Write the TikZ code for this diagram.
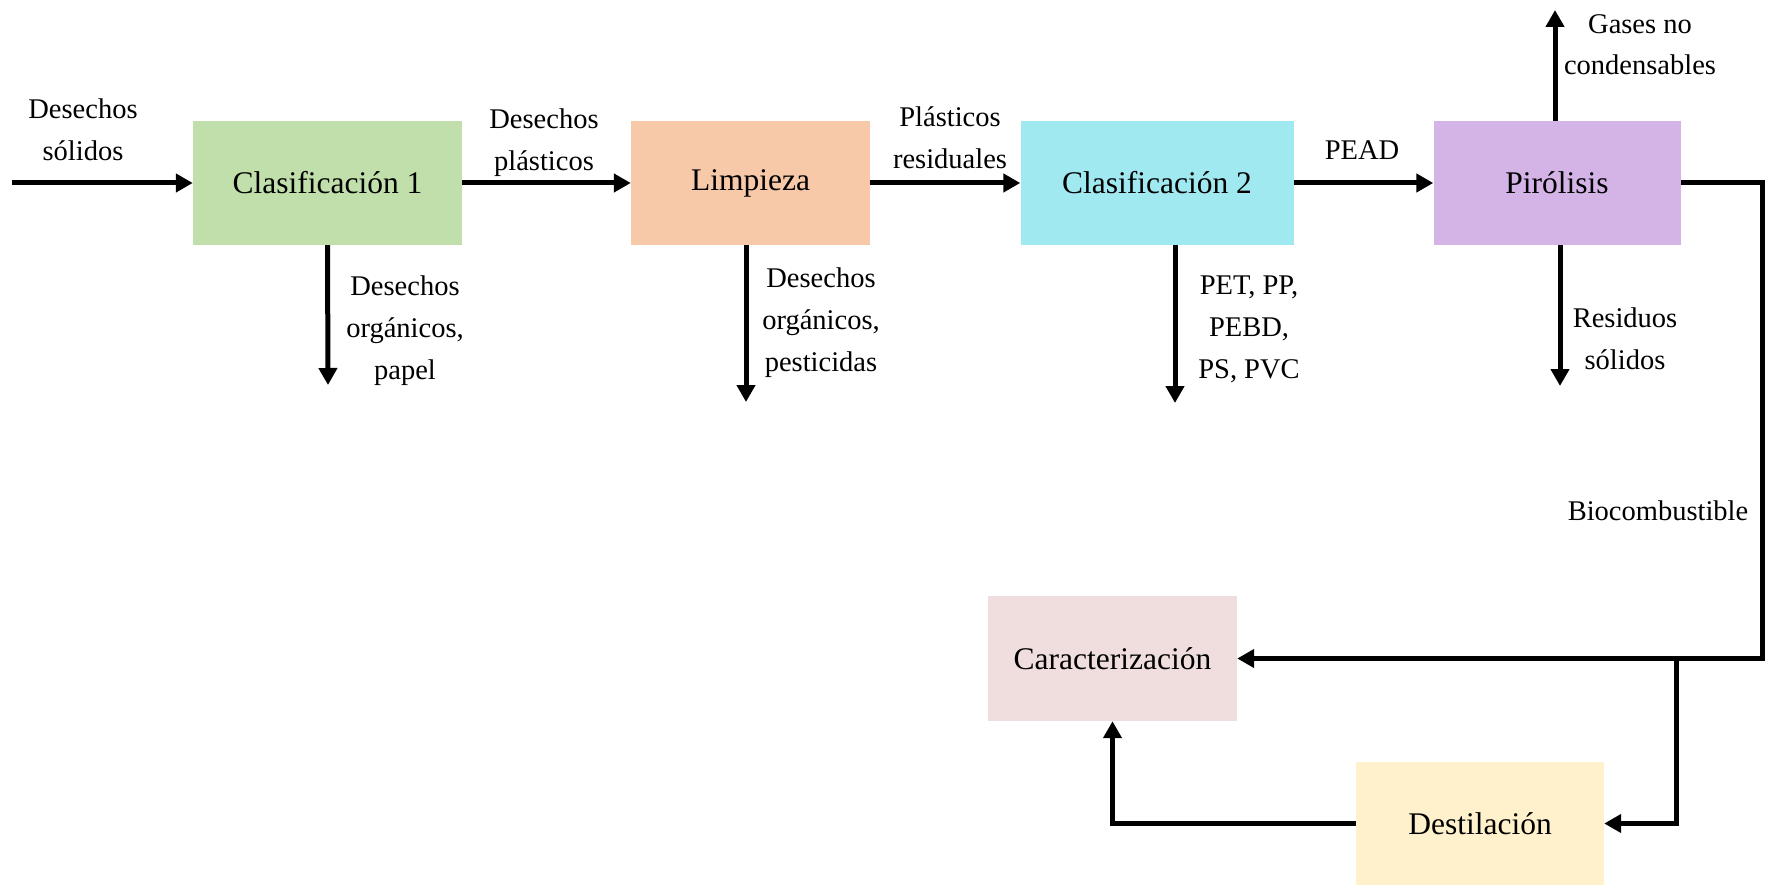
\documentclass[tikz,border=0pt]{standalone}
\usepackage{fontspec}
\setmainfont{Liberation Serif}
\usetikzlibrary{arrows.meta}
\definecolor{cgreen}{HTML}{C1DFAA}
\definecolor{corange}{HTML}{F8C9A9}
\definecolor{ccyan}{HTML}{A0E9F1}
\definecolor{cpurple}{HTML}{D4B3E7}
\definecolor{cpink}{HTML}{F0DEDE}
\definecolor{cyellow}{HTML}{FFF1CC}
\begin{document}
\begin{tikzpicture}[x=1pt,y=-1pt,
  proc/.style={rectangle, inner sep=0pt, minimum height=124pt, font=\fontsize{31.5}{38}\selectfont},
  lbl/.style={align=center, inner sep=0pt, anchor=north, font=\fontsize{28.5}{41.8}\selectfont},
  flow/.style={line width=5pt, -{Triangle[length=17pt,width=18pt]}}]
\useasboundingbox (0,0) rectangle (1769,885);
% boxes
\node[proc, fill=cgreen, minimum width=269pt] (c1) at (327.5,183) {Clasificación 1};
\node[proc, fill=corange, minimum width=239pt] (limp) at (750.5,183) {Limpieza};
\node[proc, fill=ccyan, minimum width=273pt] (c2) at (1157,183) {Clasificación 2};
\node[proc, fill=cpurple, minimum width=247pt] (pir) at (1557,183) {Pirólisis};
\node[proc, fill=cpink, minimum width=249pt, minimum height=125pt] (car) at (1112.5,658.5) {Caracterización};
\node[proc, fill=cyellow, minimum width=248pt, minimum height=123pt] (dest) at (1480,823.5) {Destilación};
% free ends
\coordinate (inStart) at (12,183);
\coordinate (c1End) at (328,385);
\coordinate (limpEnd) at (746,402);
\coordinate (c2End) at (1175,403);
\coordinate (gasEnd) at (1555,10);
\coordinate (pirEnd) at (1560,386);
\coordinate (rc) at (1762,183);
\coordinate (jn) at (1676,658.5);
% connectors
\draw[flow] (inStart) -- (c1.west);
\draw[flow] (c1.east) -- (limp.west);
\draw[flow] (limp.east) -- (c2.west);
\draw[flow] (c2.east) -- (pir.west);
\draw[flow] (c1.south) -- (c1End);
\draw[flow] (limp.south -| limpEnd) -- (limpEnd);
\draw[flow] (c2.south -| c2End) -- (c2End);
\draw[flow] (pir.north -| gasEnd) -- (gasEnd);
\draw[flow] (pir.south -| pirEnd) -- (pirEnd);
\draw[flow] (pir.east) -- (rc) |- (car.east);
\draw[flow] (jn) |- (dest.east);
\draw[flow] (dest.west) -| (car.south);
% labels
\node[lbl] (lA) at (83,98.7) {Desechos\\sólidos};
\node[lbl] (lB) at (544,109) {Desechos\\plásticos};
\node[lbl] (lC) at (950,106.7) {Plásticos\\residuales};
\node[lbl] (lD) at (1362,140.5) {PEAD};
\node[lbl] (lE) at (1640,14) {Gases no\\condensables};
\node[lbl] (lF) at (1625,308) {Residuos\\sólidos};
\node[lbl] (lG) at (1249,276) {PET, PP,\\PEBD,\\PS, PVC};
\node[lbl] (lH) at (405,276) {Desechos\\orgánicos,\\papel};
\node[lbl] (lI) at (821,268) {Desechos\\orgánicos,\\pesticidas};
\node[lbl] (lJ) at (1658,501) {Biocombustible};
\end{tikzpicture}
\end{document}
